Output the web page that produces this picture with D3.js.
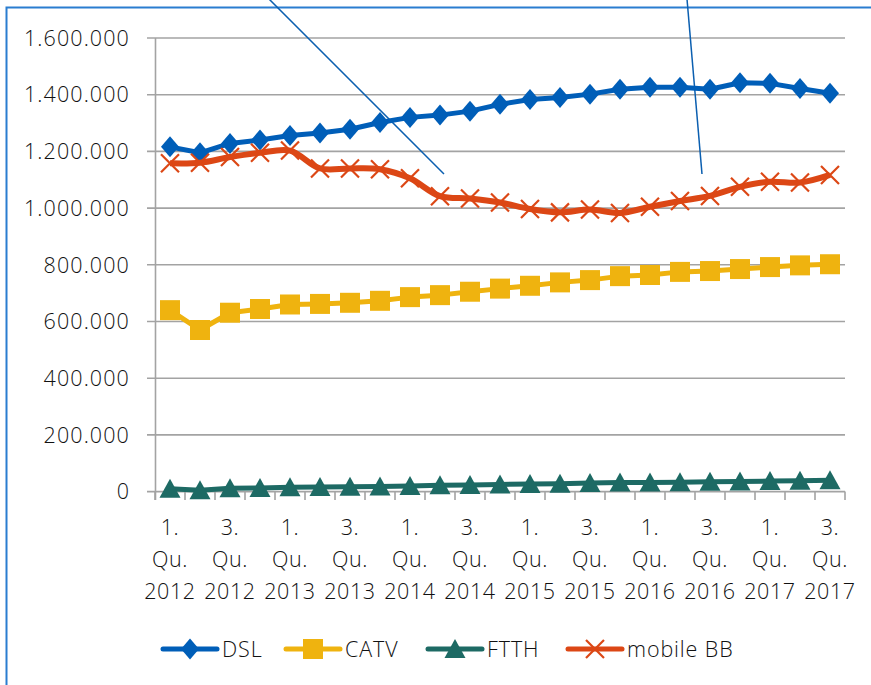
<!DOCTYPE html>
<html>
<head>
<meta charset="utf-8">
<script src="https://cdn.jsdelivr.net/npm/d3@7"></script>
<style>
  body { margin: 0; background: #fff; }
  svg text { font-family: "Open Sans", "Noto Sans", sans-serif; font-weight: 350; fill: #111; }
</style>
</head>
<body>
<svg id="chart" width="871" height="685"></svg>
<script>
"use strict";

// Data (values in thousands)
var categories = [
    "1. Qu. 2012", "2. Qu. 2012", "3. Qu. 2012", "4. Qu. 2012",
    "1. Qu. 2013", "2. Qu. 2013", "3. Qu. 2013", "4. Qu. 2013",
    "1. Qu. 2014", "2. Qu. 2014", "3. Qu. 2014", "4. Qu. 2014",
    "1. Qu. 2015", "2. Qu. 2015", "3. Qu. 2015", "4. Qu. 2015",
    "1. Qu. 2016", "2. Qu. 2016", "3. Qu. 2016", "4. Qu. 2016",
    "1. Qu. 2017", "2. Qu. 2017", "3. Qu. 2017"
];
// only every other category carries a label
var tickLabels = ["1. Qu. 2012", "3. Qu. 2012", "1. Qu. 2013", "3. Qu. 2013",
    "1. Qu. 2014", "3. Qu. 2014", "1. Qu. 2015", "3. Qu. 2015",
    "1. Qu. 2016", "3. Qu. 2016", "1. Qu. 2017", "3. Qu. 2017"];
var yTicks = [0, 200000, 400000, 600000, 800000, 1000000, 1200000, 1400000, 1600000];

var dsl = [1216, 1195, 1228, 1240, 1256, 1265, 1278, 1302, 1320, 1328, 1342, 1366,
           1383, 1390, 1402, 1419, 1426, 1426, 1419, 1442, 1440, 1422, 1405];
var catv = [640, 570, 631, 644, 660, 662, 666, 673, 686, 693, 705, 716,
            726, 738, 746, 760, 764, 775, 778, 785, 792, 798, 802];
var ftth = [10, 5, 12, 13, 15, 16, 17, 18, 20, 22, 23, 25,
            27, 28, 30, 32, 32, 33, 35, 36, 37, 38, 40];
var mobileBB = [1158, 1160, 1180, 1195, 1203, 1140, 1140, 1137, 1105, 1042, 1034, 1020,
                997, 985, 995, 983, 1005, 1025, 1043, 1075, 1093, 1090, 1117];

var seriesNames = ["DSL", "CATV", "FTTH", "mobile BB"];
var seriesValues = [dsl, catv, ftth, mobileBB];
var seriesColors = ["#005eb8", "#efb30f", "#1d6a64", "#dc4715"];
var seriesMarkers = ["diamond", "square", "triangle", "cross"];

var svg = d3.select("#chart");

// outer frame (only left and top edges are in view)
svg.append("rect")
    .attr("x", 6.5).attr("y", 7.5)
    .attr("width", 900).attr("height", 700)
    .attr("fill", "none")
    .attr("stroke", "#2a7dd0")
    .attr("stroke-width", 2);

var x = d3.scaleBand().domain(categories).range([155, 845]);
var y = d3.scaleLinear().domain([0, 1600000]).range([491.6, 38]);
function cx(c) { return x(c) + x.bandwidth() / 2; }

var fmt = function (v) { return d3.format(",")(v).replace(/,/g, "."); };

// gridlines + y labels
var grid = svg.append("g");
grid.selectAll("line")
    .data(yTicks)
    .enter()
    .append("line")
    .attr("x1", 147).attr("x2", 845)
    .attr("y1", function (d) { return y(d); })
    .attr("y2", function (d) { return y(d); })
    .attr("stroke", "#a3a3a3")
    .attr("stroke-width", 1.6);

grid.selectAll("text")
    .data(yTicks)
    .enter()
    .append("text")
    .attr("x", 130)
    .attr("y", function (d) { return y(d); })
    .attr("dy", "0.36em")
    .attr("text-anchor", "end")
    .style("font-size", "21.5px")
    .style("letter-spacing", "1.1px")
    .text(fmt);

// vertical axis line
svg.append("line")
    .attr("x1", 155.5).attr("x2", 155.5)
    .attr("y1", 38).attr("y2", 500)
    .attr("stroke", "#a3a3a3")
    .attr("stroke-width", 1.6);

// x ticks at category boundaries
var bounds = categories.map(function (c) { return x(c); }).concat([845]);
svg.append("g").selectAll("line")
    .data(bounds)
    .enter()
    .append("line")
    .attr("x1", function (d) { return d; })
    .attr("x2", function (d) { return d; })
    .attr("y1", y(0)).attr("y2", 500)
    .attr("stroke", "#a3a3a3")
    .attr("stroke-width", 1.6);

// x labels, three lines each
var xl = svg.append("g").selectAll("text")
    .data(tickLabels)
    .enter()
    .append("text")
    .attr("text-anchor", "middle")
    .style("font-size", "21.5px")
    .style("letter-spacing", "0.6px");
xl.each(function (d) {
    var parts = d.split(" ");
    var t = d3.select(this);
    parts.forEach(function (p, i) {
        t.append("tspan")
            .attr("x", cx(d))
            .attr("y", 535 + i * 32)
            .text(p);
    });
});

// annotation leader lines
var leaders = [[268, -2, 444, 174], [687, -1, 702, 174]];
svg.append("g").selectAll("line")
    .data(leaders)
    .enter()
    .append("line")
    .attr("x1", function (d) { return d[0]; })
    .attr("y1", function (d) { return d[1]; })
    .attr("x2", function (d) { return d[2]; })
    .attr("y2", function (d) { return d[3]; })
    .attr("stroke", "#0b5fb0")
    .attr("stroke-width", 1.5);

function markerPath(type) {
    if (type == "diamond") return "M0,-10.5L9,0L0,10.5L-9,0Z";
    if (type == "square") return "M-10,-10H10V10H-10Z";
    if (type == "triangle") return "M0,-10L10.5,9H-10.5Z";
    return "M-9,-9L9,9M-9,9L9,-9";
}

function drawMarker(g, type, color, px, py) {
    var p = g.append("path")
        .attr("d", markerPath(type))
        .attr("transform", "translate(" + px + "," + py + ")");
    if (type == "cross")
        p.attr("fill", "none").attr("stroke", color).attr("stroke-width", 2.2);
    else
        p.attr("fill", color);
}

// series
seriesValues.forEach(function (vals, si) {
    var g = svg.append("g");
    var line = d3.line()
        .x(function (d, i) { return cx(categories[i]); })
        .y(function (d) { return y(d * 1000); });
    if (si == 3) line.curve(d3.curveCatmullRom.alpha(0.5));

    g.append("path")
        .datum(vals)
        .attr("d", line)
        .attr("fill", "none")
        .attr("stroke", seriesColors[si])
        .attr("stroke-width", si == 3 ? 6 : 5)
        .attr("stroke-linejoin", "round");

    vals.forEach(function (v, i) {
        drawMarker(g, seriesMarkers[si], seriesColors[si], cx(categories[i]), y(v * 1000));
    });
});

// legend
var legendX = [163, 286, 428, 568];
var legendY = 649;
seriesNames.forEach(function (name, i) {
    var g = svg.append("g");
    g.append("line")
        .attr("x1", legendX[i]).attr("x2", legendX[i] + 54)
        .attr("y1", legendY).attr("y2", legendY)
        .attr("stroke", seriesColors[i])
        .attr("stroke-width", 5)
        .attr("stroke-linecap", "round");
    drawMarker(g, seriesMarkers[i], seriesColors[i], legendX[i] + 27, legendY);
    g.append("text")
        .attr("x", legendX[i] + 59)
        .attr("y", legendY)
        .attr("dy", "0.36em")
        .style("font-size", "21.5px")
        .style("letter-spacing", "0.9px")
        .text(name);
});
</script>
</body>
</html>
